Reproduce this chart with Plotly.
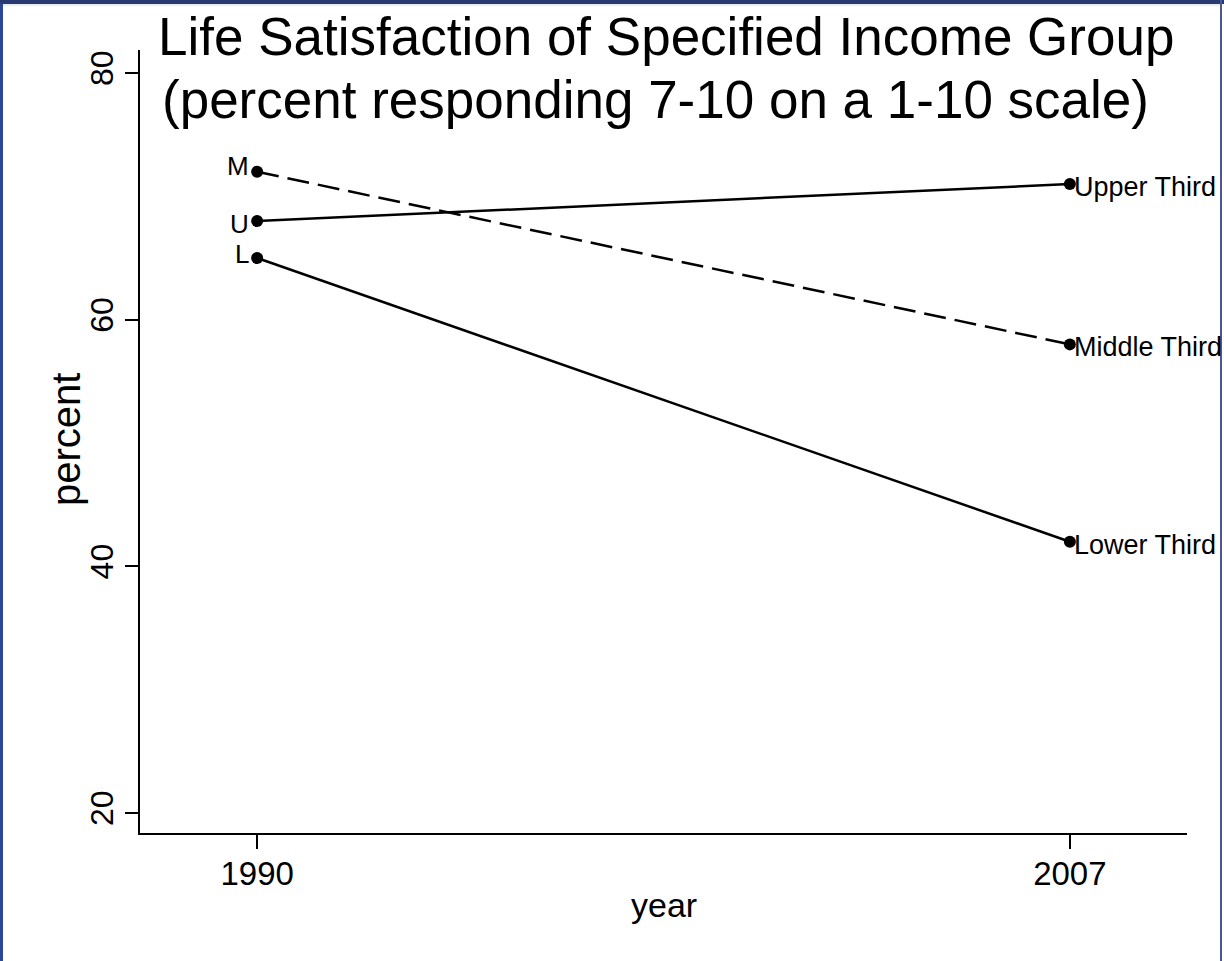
import plotly.graph_objects as go

years = [1990, 2007]
upper = [68, 71]
middle = [72, 58]
lower = [65, 42]
short_labels = ["U", "M", "L"]
long_labels = ["Upper Third", "Middle Third", "Lower Third"]
series_vals = [upper, middle, lower]
dashes = ["solid", "22px,9px", "solid"]

y_ticks = [20, 40, 60, 80]
x_ticks = [1990, 2007]

title_lines = ["Life Satisfaction of Specified Income Group",
               "(percent responding 7-10 on a 1-10 scale)"]
x_title = "year"
y_title = "percent"

FONT = "Arial, Liberation Sans, Helvetica, sans-serif"

fig = go.Figure()
for vals, d in zip(series_vals, dashes):
    fig.add_trace(go.Scatter(
        x=years, y=vals, mode="lines+markers",
        line=dict(color="black", width=2.5, dash=d),
        marker=dict(color="black", size=12),
        showlegend=False, hoverinfo="skip",
    ))

# labels
left_yshift = {"U": -3, "M": 6, "L": 4}
for vals, s, l in zip(series_vals, short_labels, long_labels):
    fig.add_annotation(x=years[0], y=vals[0], text=s, showarrow=False,
                       xanchor="right", yanchor="middle", xshift=-6, yshift=left_yshift[s],
                       font=dict(family=FONT, size=26, color="black"))
    fig.add_annotation(x=years[1], y=vals[1], text=l, showarrow=False,
                       xanchor="left", yanchor="middle", xshift=2, yshift=-3,
                       font=dict(family=FONT, size=27, color="black"))

W, H = 1224, 961
L, R, T, B = 140, 37, 50, 128
pw, ph = W - L - R, H - T - B

def px_x(p):
    return (p - L) / pw

def px_y(p):
    return (H - B - p) / ph

# title lines as annotations
for line, cx, cy in zip(title_lines, [666, 655], [36, 100]):
    fig.add_annotation(x=px_x(cx), y=px_y(cy), xref="paper", yref="paper",
                       text=line, showarrow=False,
                       xanchor="center", yanchor="middle",
                       font=dict(family=FONT, size=53, color="black"))

# axis titles as annotations
fig.add_annotation(x=px_x(664), y=px_y(905), xref="paper", yref="paper",
                   text=x_title, showarrow=False, xanchor="center", yanchor="middle",
                   font=dict(family=FONT, size=34, color="black"))
fig.add_annotation(x=px_x(66), y=px_y(440), xref="paper", yref="paper",
                   text=y_title, showarrow=False, xanchor="center", yanchor="middle",
                   textangle=-90, font=dict(family=FONT, size=40, color="black"))

shapes = [
    dict(type="rect", xref="paper", yref="paper", x0=px_x(0), x1=px_x(3), y0=px_y(961), y1=px_y(0),
         fillcolor="#2a469a", line=dict(width=0), layer="above"),
    dict(type="rect", xref="paper", yref="paper", x0=px_x(0), x1=px_x(1224), y0=px_y(4), y1=px_y(0),
         fillcolor="#283a70", line=dict(width=0), layer="above"),
    dict(type="rect", xref="paper", yref="paper", x0=px_x(3), x1=px_x(1221), y0=px_y(6), y1=px_y(4),
         fillcolor="#e6eef0", line=dict(width=0), layer="above"),
    dict(type="rect", xref="paper", yref="paper", x0=px_x(1220), x1=px_x(1222), y0=px_y(961), y1=px_y(0),
         fillcolor="#4a5a90", line=dict(width=0), layer="above"),
]

fig.update_layout(
    width=W, height=H,
    margin=dict(l=L, r=R, t=T, b=B, pad=0),
    paper_bgcolor="white", plot_bgcolor="white",
    font=dict(family=FONT, color="black"),
    shapes=shapes,
)

fig.update_xaxes(
    range=[1987.55, 2009.45], tickvals=x_ticks, ticktext=[str(v) for v in x_ticks],
    showgrid=False, zeroline=False, showline=True, linecolor="black", linewidth=2,
    ticks="outside", ticklen=14, tickwidth=2, tickcolor="black",
    tickfont=dict(family=FONT, size=33), ticklabelstandoff=-4,
)
fig.update_yaxes(
    range=[18.38, 81.87], tickvals=y_ticks, ticktext=[str(v) for v in y_ticks],
    showgrid=False, zeroline=False, showline=True, linecolor="black", linewidth=2,
    ticks="outside", ticklen=13, tickwidth=2, tickcolor="black", tickangle=-90,
    tickfont=dict(family=FONT, size=32), ticklabelstandoff=-1,
)

fig.write_html("out.html", config={"displayModeBar": False},
               post_script="document.body.style.margin='0';document.body.style.overflow='hidden';")
